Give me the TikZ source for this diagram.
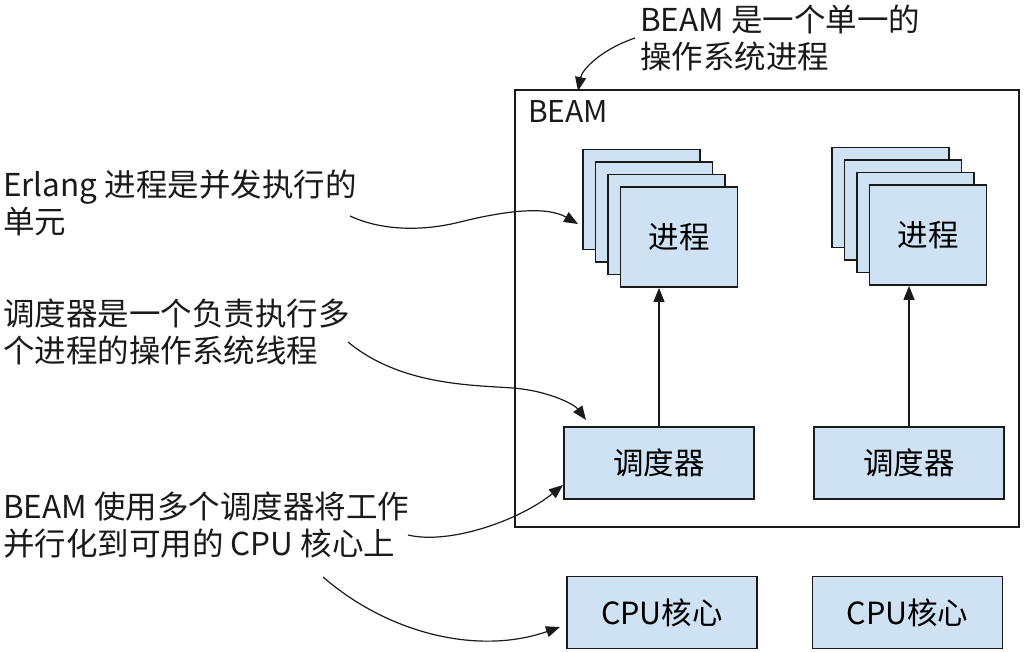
\documentclass[tikz,border=0pt]{standalone}
\usepackage{fontspec}
\setmainfont{Noto Sans CJK SC}
\usetikzlibrary{arrows.meta}
\definecolor{boxfill}{HTML}{CFE2F3}
\definecolor{ink}{HTML}{1A1A1A}
\begin{document}
\begin{tikzpicture}[x=1pt,y=-1pt,
  box/.style={draw=ink,fill=boxfill,line width=1.8pt,inner sep=0pt,font=\fontsize{30.5}{34}\selectfont},
  proc/.style={box,minimum width=117pt,minimum height=100pt},
  sched/.style={box,minimum width=190pt,minimum height=72pt},
  note/.style={inner sep=0pt,anchor=base west,align=left,text=ink,font=\fontsize{31.5}{36.5}\selectfont},
  arr/.style={draw=ink,line width=1.2pt,-{Triangle[length=14pt,width=11pt]}}]
\useasboundingbox (0,0) rectangle (1024,651);
% BEAM container
\node (beam) [draw=ink,line width=1.8pt,inner sep=0pt,minimum width=504pt,minimum height=437pt] at (767,308.5) {};
\node (beamlbl) [note,font=\fontsize{30}{34}\selectfont] at (528,122) {BEAM};
% process stacks
\foreach \s/\dx/\dy in {L/0/0,R/249/-2}{
  \node (p\s1) [proc] at (641.5+\dx,199.5+\dy) {};
  \node (p\s2) [proc] at (654+\dx,212+\dy) {};
  \node (p\s3) [proc] at (666.5+\dx,224.5+\dy) {};
  \node (p\s4) [proc] at (679+\dx,237+\dy) {进程};
}
% schedulers
\node (sL) [sched] at (659,463) {调度器};
\node (sR) [sched] at (909,463) {调度器};
% CPUs
\node (cL) [sched] at (662,612.5) {CPU核心};
\node (cR) [sched] at (907.5,612.5) {CPU核心};
% vertical arrows
\draw[arr] (sL.north) -- (sL.north |- pL4.south);
\draw[arr] (sR.north) -- (sR.north |- pR4.south);
% notes (anchor = baseline of last line)
\node (n1) [note] at (640,68) {BEAM 是一个单一的\\操作系统进程};
\node (n2) [note] at (3,233) {Erlang 进程是并发执行的\\单元};
\node (n3) [note] at (3,362) {调度器是一个负责执行多\\个进程的操作系统线程};
\node (n4) [note] at (3,555) {BEAM 使用多个调度器将工作\\并行化到可用的 CPU 核心上};
% connector endpoints
\coordinate (a1) at (635,38);
\coordinate (b1) at (578,91);
\coordinate (a2) at (350,216);
\coordinate (b2) at (578,224);
\coordinate (a3) at (348,342);
\coordinate (b3) at (586,420);
\coordinate (a4) at (408,535);
\coordinate (b4) at (563,485);
\coordinate (a5) at (323,577);
\coordinate (b5) at (560,627);
\draw[arr] (a1) .. controls (600,50) and (582,70) .. (b1);
\draw[arr] (a2) .. controls (380,230) and (420,232) .. (460,222) .. controls (500,212) and (545,205) .. (b2);
\draw[arr] (a3) .. controls (400,385) and (470,385) .. (513,388) .. controls (550,391) and (575,405) .. (b3);
\draw[arr] (a4) .. controls (450,545) and (520,520) .. (b4);
\draw[arr] (a5) .. controls (390,635) and (480,655) .. (b5);
\end{tikzpicture}
\end{document}
